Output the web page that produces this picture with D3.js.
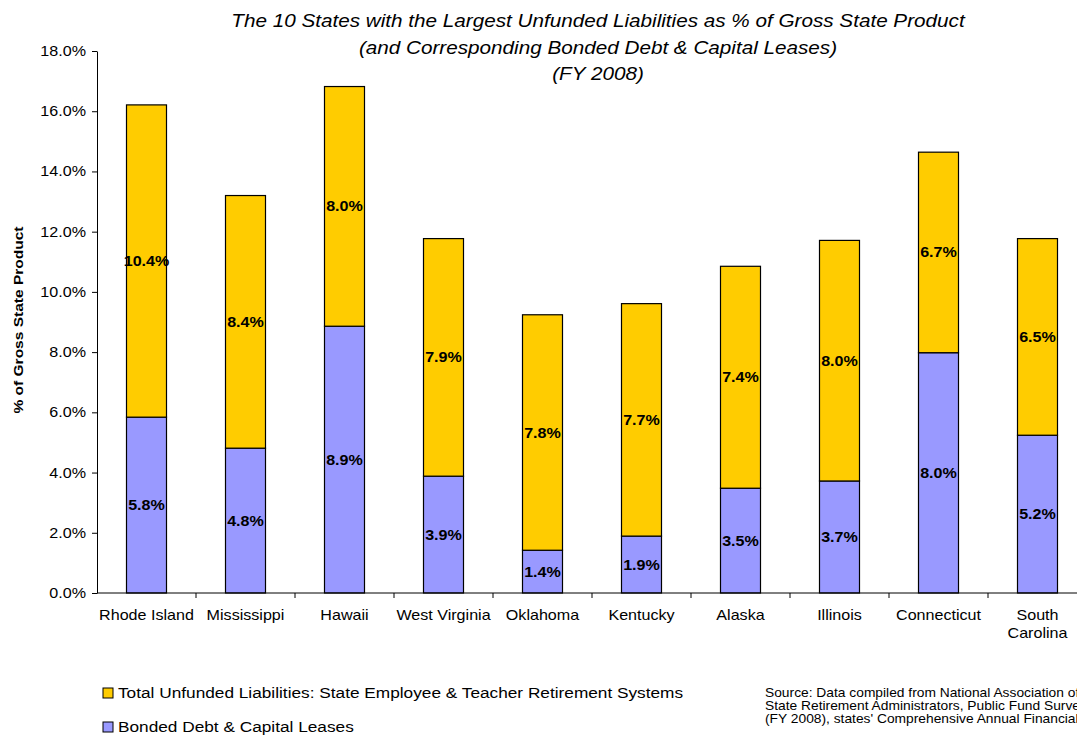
<!DOCTYPE html>
<html>
    <head>
        <meta charset="utf-8">
        <script src="https://cdn.jsdelivr.net/npm/d3@7"></script>
        <style>
            body { margin: 0; background: white; }
            text { font-family: Arial, "Liberation Sans", sans-serif; }
        </style>
    </head>
    <body>
        <svg id="fig" width="1077" height="736"></svg>
        <script>
            // chart data (% of gross state product)
            var states = ["Rhode Island", "Mississippi", "Hawaii", "West Virginia", "Oklahoma",
                          "Kentucky", "Alaska", "Illinois", "Connecticut", "South Carolina"];
            var bonded = [5.84, 4.81, 8.86, 3.88, 1.42, 1.89, 3.48, 3.72, 7.98, 5.24];
            var unfunded = [10.37, 8.39, 7.96, 7.89, 7.82, 7.72, 7.37, 7.99, 6.66, 6.53];
            var yTicks = [0, 2, 4, 6, 8, 10, 12, 14, 16, 18];
            var titleLines = ["The 10 States with the Largest Unfunded Liabilities as % of Gross State Product",
                              "(and Corresponding Bonded Debt & Capital Leases)",
                              "(FY 2008)"];
            var legendItems = ["Total Unfunded Liabilities: State Employee & Teacher Retirement Systems",
                               "Bonded Debt & Capital Leases"];
            var sourceLines = ["Source: Data compiled from National Association of",
                               "State Retirement Administrators, Public Fund Survey",
                               "(FY 2008), states' Comprehensive Annual Financial Reports"];

            const yellow = "#ffcc00";
            const blue = "#9999ff";
            const sx = 1.15;   // the original's text runs wider than Liberation Sans

            function place(px, py) {
                return "translate(" + px + "," + py + ") scale(" + sx + ",1)";
            }

            var svg = d3.select("#fig");

            var x = d3.scaleBand().domain(states).range([97, 1087]);
            var y = d3.scaleLinear().domain([0, 18]).range([593, 51]);
            const barW = 40;
            var cx = s => x(s) + x.bandwidth() / 2;

            // title
            svg.append("g").selectAll("text").data(titleLines)
                .enter()
                .append("text")
                .attr("transform", (d, i) => place(598, 27 + i * 26.5))
                .attr("text-anchor", "middle")
                .attr("font-size", "18px")
                .attr("font-style", "italic")
                .text(d => d);

            // bars
            var rows = states.map((s, i) => ({state: s, b: bonded[i], u: unfunded[i]}));

            var bars = svg.append("g");
            bars.selectAll("rect.b").data(rows)
                .enter()
                .append("rect")
                .attr("class", "b")
                .attr("x", d => cx(d.state) - barW / 2)
                .attr("y", d => y(d.b))
                .attr("width", barW)
                .attr("height", d => y(0) - y(d.b))
                .attr("fill", blue)
                .attr("stroke", "black")
                .attr("stroke-width", 1.2);

            bars.selectAll("rect.u").data(rows)
                .enter()
                .append("rect")
                .attr("class", "u")
                .attr("x", d => cx(d.state) - barW / 2)
                .attr("y", d => y(d.b + d.u))
                .attr("width", barW)
                .attr("height", d => y(d.b) - y(d.b + d.u))
                .attr("fill", yellow)
                .attr("stroke", "black")
                .attr("stroke-width", 1.2);

            // value labels
            var labels = svg.append("g")
                .attr("font-size", "14px")
                .attr("font-weight", "bold")
                .attr("text-anchor", "middle");
            labels.selectAll("text.b").data(rows)
                .enter()
                .append("text")
                .attr("transform", d => place(cx(d.state), (y(0) + y(d.b)) / 2 + 5))
                .text(d => d.b.toFixed(1) + "%");
            labels.selectAll("text.u").data(rows)
                .enter()
                .append("text")
                .attr("transform", d => place(cx(d.state), (y(d.b) + y(d.b + d.u)) / 2 + 5))
                .text(d => d.u.toFixed(1) + "%");

            // y axis
            var yAxis = svg.append("g")
                .attr("transform", "translate(97,0)")
                .call(d3.axisLeft(y).tickValues(yTicks).tickSize(5).tickSizeOuter(0)
                        .tickFormat(d => d.toFixed(1) + "%"));
            yAxis.selectAll("text")
                .attr("font-size", "14px")
                .attr("fill", "black")
                .attr("x", -11 / sx)
                .attr("transform", "scale(" + sx + ",1)")
                .attr("font-family", "Arial, 'Liberation Sans', sans-serif");
            yAxis.select(".domain").attr("stroke", "black");

            // x axis: ticks between categories
            var xAxis = svg.append("g").attr("transform", "translate(0,593)");
            xAxis.append("line").attr("x1", 97).attr("x2", 1087).attr("stroke", "black");
            xAxis.selectAll("line.tick").data(states)
                .enter()
                .append("line")
                .attr("class", "tick")
                .attr("x1", d => x(d) + x.bandwidth())
                .attr("x2", d => x(d) + x.bandwidth())
                .attr("y1", 0)
                .attr("y2", 5)
                .attr("stroke", "black");
            var catLabels = xAxis.selectAll("text").data(states)
                .enter()
                .append("text")
                .attr("transform", d => place(cx(d), 27))
                .attr("text-anchor", "middle")
                .attr("font-size", "14px");
            catLabels.each(function(d) {
                var t = d3.select(this);
                var parts = d === "South Carolina" ? ["South", "Carolina"] : [d];
                parts.forEach((p, i) => {
                    t.append("tspan").attr("x", 0).attr("dy", i ? 18 : 0).text(p);
                });
            });

            // y axis title
            svg.append("text")
                .attr("transform", "translate(23,320) rotate(-90) scale(" + sx + ",1)")
                .attr("text-anchor", "middle")
                .attr("font-size", "13.5px")
                .attr("font-weight", "bold")
                .text("% of Gross State Product");

            // legend
            var legend = svg.append("g");
            var legendColors = [yellow, blue];
            legend.selectAll("rect").data(legendItems)
                .enter()
                .append("rect")
                .attr("x", 103)
                .attr("y", (d, i) => 688 + i * 34)
                .attr("width", 10)
                .attr("height", 10)
                .attr("fill", (d, i) => legendColors[i])
                .attr("stroke", "black");
            legend.selectAll("text").data(legendItems)
                .enter()
                .append("text")
                .attr("transform", (d, i) => place(118, 698 + i * 34))
                .attr("font-size", "15px")
                .text(d => d);

            // source note
            svg.append("g").selectAll("text").data(sourceLines)
                .enter()
                .append("text")
                .attr("transform", (d, i) => place(765, 697 + i * 13))
                .attr("font-size", "12px")
                .text(d => d);
        </script>
    </body>
</html>
